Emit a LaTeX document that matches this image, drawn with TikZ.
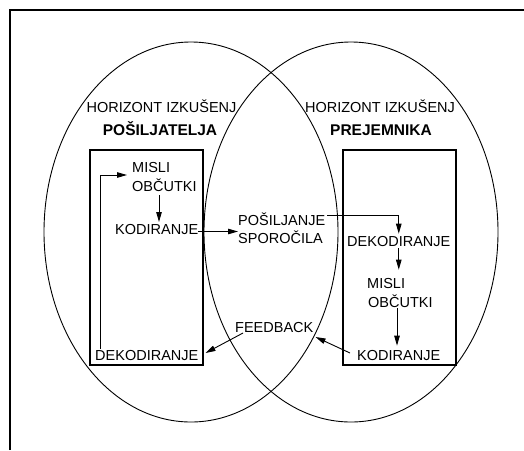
\documentclass[tikz,border=0pt]{standalone}
\usepackage{fontspec}
\setmainfont{Liberation Sans}
\usetikzlibrary{arrows.meta,calc}
\begin{document}
\begin{tikzpicture}[x=1pt,y=-1pt,
  lbl/.style={font=\fontsize{14.5}{17}\selectfont, inner sep=0pt, anchor=base west},
  hd/.style={font=\fontsize{14.5}{17}\selectfont, inner sep=0pt, anchor=base},
  bhd/.style={font=\fontsize{15.5}{18}\selectfont\bfseries, inner sep=0pt, anchor=base},
  arr/.style={-{Triangle[length=10pt,width=5.5pt]}, line width=0.9pt},
  boxline/.style={draw, line width=1.4pt},
  circ/.style={draw, line width=0.9pt}]
\useasboundingbox (0,0) rectangle (524,450);
% frame
\draw[line width=1.8pt] (10,450) -- (10,10) -- (524,10);
% horizons
\draw[circ] (191,232) ellipse [x radius=147, y radius=190];
\draw[circ] (351,232) ellipse [x radius=147, y radius=190];
% boxes
\draw[boxline] (90,150) rectangle (203,365);
\draw[boxline] (343,150) rectangle (456,365);
% headings
\node[hd]  (hz1) at (161.5,112) {HORIZONT IZKUŠENJ};
\node[hd]  (hz2) at (380,112) {HORIZONT IZKUŠENJ};
\node[bhd] (snd) at (160,135) {POŠILJATELJA};
\node[bhd] (rcv) at (381,135) {PREJEMNIKA};
% left texts
\node[lbl] (mL1) at (132,172) {MISLI};
\node[lbl] (mL2) at (132,191) {OBČUTKI};
\node[lbl] (kL)  at (115,234.5) {KODIRANJE};
\node[lbl] (dL)  at (95,360) {DEKODIRANJE};
% middle texts
\node[lbl] (p1) at (238,225) {POŠILJANJE};
\node[lbl] (p2) at (238,243) {SPOROČILA};
\node[lbl] (fb) at (235,332) {FEEDBACK};
% right texts
\node[lbl] (dR)  at (347,246) {DEKODIRANJE};
\node[lbl] (mR1) at (367,288) {MISLI};
\node[lbl] (mR2) at (368,307) {OBČUTKI};
\node[lbl] (kR)  at (357,360) {KODIRANJE};
% connectors
\draw[arr] ($(dL.north west)+(5,-1)$) |- ($(mL1.base west)+(-5,3)$);
\draw[arr] ($(mL2.base west)+(27,4)$) -- ($(mL2.base west)+(27,31)$);
\coordinate (k1) at ($(kL.base east)+(0,-3)$);
\draw[arr] (k1) -- (k1 -| p1.west);
\coordinate (s1) at ($(p1.base east)+(2,-10)$);
\coordinate (s2) at ($(dR.north)+(0,-2)$);
\draw[arr] (s1) -| (s2);
\coordinate (d1) at ($(dR.south)+(0,2)$);
\coordinate (d2) at ($(mR1.north -| dR.south)+(0,-8)$);
\draw[arr] (d1) -- (d2);
\coordinate (m1) at ($(mR2.base west)+(29,1)$);
\coordinate (m2) at ($(kR.north -| m1)+(0,-4)$);
\draw[arr] (m1) -- (m2);
\draw[arr] ($(kR.base west)+(-7,-7)$) -- ($(fb.base east)+(2,5)$);
\draw[arr] ($(fb.base west)+(8,1)$) -- ($(dL.base east)+(7,-7)$);
\end{tikzpicture}
\end{document}
